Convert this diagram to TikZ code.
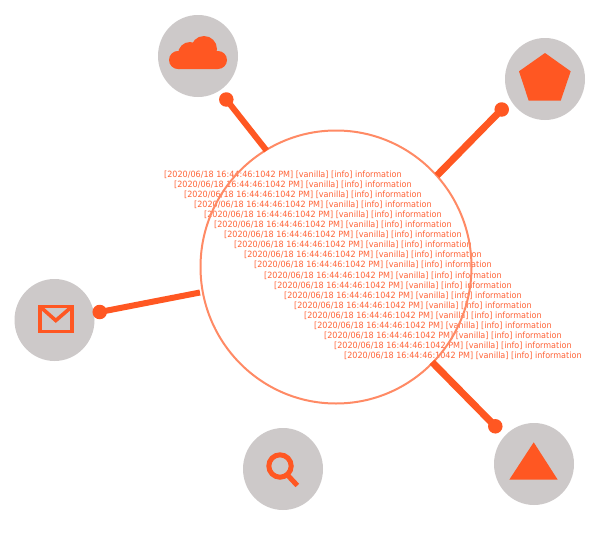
\documentclass[tikz,border=0pt]{standalone}
\usepackage{fontspec}
\setmainfont{DejaVu Sans}
\definecolor{accent}{HTML}{FF5722}
\definecolor{disc}{HTML}{CDC9C9}
\definecolor{ring}{HTML}{FF8A65}
\definecolor{logtext}{HTML}{FF6438}
\tikzset{
  badge/.style={ellipse,fill=disc,minimum width=80pt,minimum height=82pt,inner sep=0pt},
  dotend/.style={circle,fill=accent,minimum size=14.5pt,inner sep=0pt},
  link/.style={draw=accent,line width=6pt},
  logline/.style={text=logtext,font=\fontsize{8.6pt}{9pt}\selectfont,anchor=west,inner sep=0pt},
  hubring/.style={ellipse,draw=ring,line width=2pt,minimum width=271pt,minimum height=273pt,inner sep=0pt}
}
\usetikzlibrary{shapes.geometric}
\newcommand{\logmsg}{\scalebox{0.937}[1]{[2020/06/18 16:44:46:1042 PM] [vanilla] [info] information}}
\begin{document}
\begin{tikzpicture}[x=1pt,y=-1pt]
\useasboundingbox[fill=white] (0,0) rectangle (600,533);
% badges
\node[badge] (cloud) at (198,56) {};
\node[badge] (penta) at (545,79) {};
\node[badge] (mail) at (54.5,320) {};
\node[badge] (search) at (283,469) {};
\node[badge] (tri) at (534,464) {};
% log lines
\foreach \i in {0,...,18}{
  \node[logline] (log\i) at ({164+10*\i},{175+10.03*\i}) {\logmsg};
}
% hub
\node[hubring] (hub) at (336,267) {};
% connector ends
\coordinate (endcloud) at (266.5,150.5);
\coordinate (endpenta) at (437,175.5);
\coordinate (endmail) at (200,292.5);
\coordinate (endtri) at (432,362);
\node[dotend] (dotcloud) at (226.3,99.5) {};
\node[dotend] (dotpenta) at (501.7,109.5) {};
\node[dotend] (dotmail) at (99.7,312) {};
\node[dotend] (dottri) at (495.3,426.3) {};
\draw[link] (dotcloud.center) -- (endcloud);
\draw[link,line width=7pt] (dotpenta.center) -- (endpenta);
\draw[link] (dotmail.center) -- (endmail);
\draw[link,line width=7pt] (dottri.center) -- (endtri);
% cloud icon
\fill[accent,rounded corners=9pt] (169,51) rectangle (227,69);
\fill[accent] (204,49) circle (13);
\fill[accent] (190,54) circle (12);
\fill[accent] (216,60) circle (9);
\fill[accent] (179,60) circle (9);
% pentagon icon
\fill[accent] (545,53) -- (570.7,71.3) -- (560.7,100.7) -- (528.7,100.7) -- (519,71.3) -- cycle;
% envelope icon
\draw[accent,line width=3.6pt] (39.8,306.5) rectangle (72.2,331.5);
\draw[accent,line width=3.6pt] (40,306.5) -- (55.8,320.5) -- (72,306.5);
% magnifier icon
\draw[accent,line width=5pt] (280,466) circle (11.2);
\draw[accent,line width=5pt] (287.5,475) -- (297.3,485.5);
% triangle icon
\fill[accent] (533.7,442.3) -- (557.7,479.7) -- (509.3,479.7) -- cycle;
\end{tikzpicture}
\end{document}
